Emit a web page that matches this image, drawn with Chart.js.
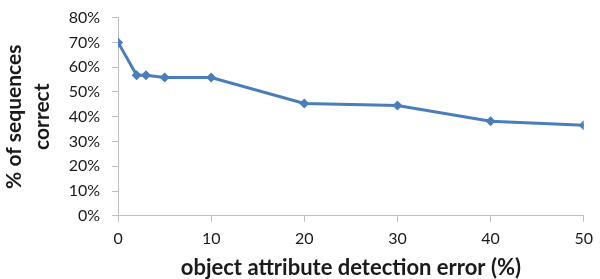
<!DOCTYPE html>
<html>
<head>
<meta charset="utf-8">
<script src="https://cdn.jsdelivr.net/npm/chart.js@4"></script>
<style>
  html, body { margin: 0; padding: 0; background: #fff; }
  #wrap { width: 600px; height: 279px; overflow: hidden; }
  #errChart { display: block; margin-top: -4px; }
</style>
</head>
<body>
<div id="wrap"><canvas id="errChart" width="600" height="283"></canvas></div>
<script>
// data
const errorPct = [0, 2, 3, 5, 10, 20, 30, 40, 50];
const correctPct = [70, 56.7, 56.7, 55.8, 55.8, 45.3, 44.5, 38.2, 36.5];
const xTicks = [0, 10, 20, 30, 40, 50];
const yTicks = [0, 10, 20, 30, 40, 50, 60, 70, 80];

const lineBlue = '#4a7ebb';
const axisGray = '#bfbfbf';
const textColor = '#1a1a1a';
const fontFam = 'Lato, "Liberation Sans", sans-serif';

const points = errorPct.map((x, i) => ({ x: x, y: correctPct[i] }));

new Chart(document.getElementById('errChart').getContext('2d'), {
    type: 'line',
    data: {
        datasets: [{
            data: points,
            borderColor: lineBlue,
            backgroundColor: lineBlue,
            borderWidth: 3,
            pointStyle: 'rectRot',
            pointRadius: 5,
            pointBorderWidth: 0,
            tension: 0
        }]
    },
    options: {
        responsive: false,
        animation: false,
        layout: { padding: { top: 0, right: 0, left: 0, bottom: 0 } },
        plugins: { legend: { display: false }, tooltip: { enabled: false } },
        scales: {
            x: {
                type: 'linear',
                min: 0,
                max: 50,
                afterBuildTicks: axis => { axis.ticks = xTicks.map(v => ({ value: v })); },
                grid: { drawOnChartArea: false, color: axisGray, tickLength: 6 },
                border: { color: axisGray },
                ticks: { color: textColor, font: { family: fontFam, size: 16 }, padding: 7 },
                title: {
                    display: true,
                    text: 'object attribute detection error (%)',
                    color: textColor,
                    font: { family: fontFam, size: 22, weight: 'bold', lineHeight: 1 },
                    padding: { top: 2, bottom: 0 }
                }
            },
            y: {
                min: 0,
                max: 80,
                afterBuildTicks: axis => { axis.ticks = yTicks.map(v => ({ value: v })); },
                grid: { drawOnChartArea: false, color: axisGray, tickLength: 6 },
                border: { color: axisGray },
                ticks: {
                    color: textColor,
                    font: { family: fontFam, size: 16 },
                    padding: 12,
                    callback: v => v + '%'
                },
                title: {
                    display: true,
                    text: ['% of sequences', 'correct'],
                    color: textColor,
                    font: { family: fontFam, size: 21, weight: 'bold', lineHeight: 1.35 },
                    padding: { top: 0, bottom: 0 }
                }
            }
        }
    }
});
</script>
</body>
</html>
